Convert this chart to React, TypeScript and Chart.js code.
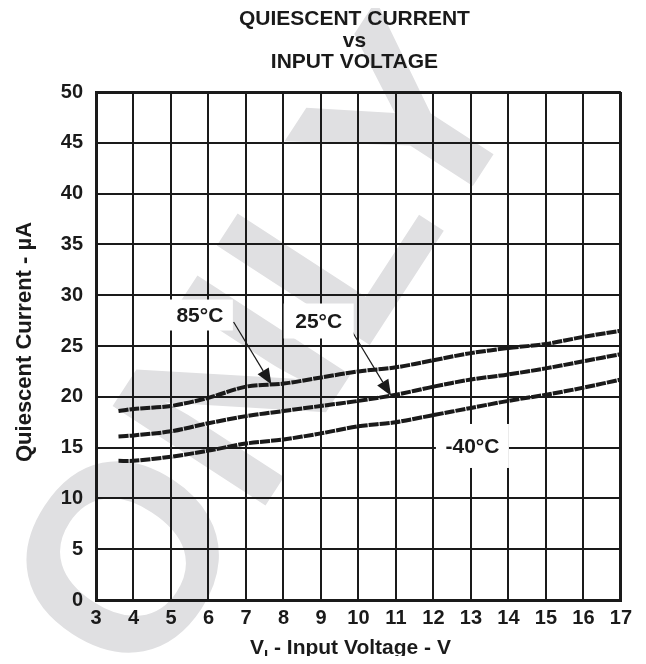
import React, { useEffect, useRef } from "react";
import { Chart, registerables } from "chart.js";

Chart.register(...registerables);

// ---- data ----
const voltage = [3.6, 4, 5, 6, 7, 8, 9, 10, 11, 12, 13, 14, 15, 16, 17];
const current85 = [18.6, 18.8, 19.1, 19.9, 21.0, 21.3, 21.9, 22.5, 22.9, 23.6, 24.3, 24.8, 25.2, 25.9, 26.5];
const current25 = [16.1, 16.2, 16.6, 17.4, 18.1, 18.6, 19.1, 19.6, 20.2, 21.0, 21.7, 22.2, 22.8, 23.5, 24.2];
const currentM40 = [13.7, 13.7, 14.1, 14.7, 15.4, 15.8, 16.4, 17.1, 17.5, 18.2, 18.9, 19.6, 20.2, 20.9, 21.7];
const seriesLabels = ["85°C", "25°C", "-40°C"];
const titleLines = ["QUIESCENT CURRENT", "vs", "INPUT VOLTAGE"];
const xTitleMain = "V";
const xTitleSub = "I";
const xTitleRest = " - Input Voltage - V";
const yTitle = "Quiescent Current - µA";
const watermark = "ONLY";

// label anchor points (data coords) and arrows
const labelX = [5.77, 8.94, 13.04];
const labelY = [28.05, 27.46, 15.16];
const arrowFromX = [6.67, 9.84];
const arrowFromY = [27.36, 26.38];
const arrowToX = [7.68, 10.87];
const arrowToY = [21.2, 20.1];

const FONT = '"Liberation Sans", Arial, Helvetica, sans-serif';
const INK = "#1a1a1a";

export default function App() {
  const ref = useRef<HTMLCanvasElement | null>(null);

  useEffect(() => {
    const canvas = ref.current;
    if (!canvas) return;

    const deco = {
      id: "deco",
      beforeDraw(chart: any) {
        const ctx = chart.ctx;
        ctx.save();
        ctx.fillStyle = "rgb(224,224,226)";
        ctx.translate(112, 547);
        ctx.rotate((-57 * Math.PI) / 180);
        ctx.font = `bold 265px ${FONT}`;
        ctx.textAlign = "left";
        ctx.textBaseline = "alphabetic";
        ctx.fillText(watermark, -103, 95);
        ctx.restore();
      },
      afterDatasetsDraw(chart: any) {
        const ctx = chart.ctx;
        const xs = chart.scales.x;
        const ys = chart.scales.y;
        ctx.save();
        // arrows
        ctx.strokeStyle = INK;
        ctx.fillStyle = INK;
        ctx.lineWidth = 1.2;
        for (let i = 0; i < arrowFromX.length; i++) {
          const x0 = xs.getPixelForValue(arrowFromX[i]);
          const y0 = ys.getPixelForValue(arrowFromY[i]);
          const x1 = xs.getPixelForValue(arrowToX[i]);
          const y1 = ys.getPixelForValue(arrowToY[i]);
          const a = Math.atan2(y1 - y0, x1 - x0);
          const L = 16, W = 6.5;
          const bx = x1 - L * Math.cos(a);
          const by = y1 - L * Math.sin(a);
          ctx.beginPath();
          ctx.moveTo(x0, y0);
          ctx.lineTo(bx, by);
          ctx.stroke();
          ctx.beginPath();
          ctx.moveTo(x1, y1);
          ctx.lineTo(bx + W * Math.sin(a), by - W * Math.cos(a));
          ctx.lineTo(bx - W * Math.sin(a), by + W * Math.cos(a));
          ctx.closePath();
          ctx.fill();
        }
        // labels with white boxes
        const boxW = [66, 70, 73];
        const boxH = [31, 35, 44];
        ctx.font = `bold 21px ${FONT}`;
        ctx.textAlign = "center";
        ctx.textBaseline = "middle";
        for (let i = 0; i < seriesLabels.length; i++) {
          const cx = xs.getPixelForValue(labelX[i]);
          const cy = ys.getPixelForValue(labelY[i]);
          ctx.fillStyle = "#ffffff";
          ctx.fillRect(cx - boxW[i] / 2, cy - boxH[i] / 2, boxW[i], boxH[i]);
          ctx.fillStyle = INK;
          ctx.fillText(seriesLabels[i], cx, cy + 1);
        }
        ctx.restore();
      },
      afterDraw(chart: any) {
        const ctx = chart.ctx;
        const area = chart.chartArea;
        const cx = (area.left + area.right) / 2;
        ctx.save();
        ctx.fillStyle = INK;
        // title
        ctx.font = `bold 21px ${FONT}`;
        ctx.textAlign = "center";
        ctx.textBaseline = "alphabetic";
        const base = [17, 39, 60];
        titleLines.forEach((t, i) => ctx.fillText(t, cx - 4, base[i]));
        // x title with subscript
        ctx.font = `bold 21px ${FONT}`;
        const wMain = ctx.measureText(xTitleMain).width;
        const wRest = ctx.measureText(xTitleRest).width;
        ctx.font = `bold 15px ${FONT}`;
        const wSub = ctx.measureText(xTitleSub).width;
        const total = wMain + wSub + wRest;
        let x = cx - total / 2 - 8;
        const by = 646;
        ctx.textAlign = "left";
        ctx.font = `bold 21px ${FONT}`;
        ctx.fillText(xTitleMain, x, by);
        x += wMain;
        ctx.font = `bold 15px ${FONT}`;
        ctx.fillText(xTitleSub, x, by + 6);
        x += wSub;
        ctx.font = `bold 21px ${FONT}`;
        ctx.fillText(xTitleRest, x, by);
        // y title
        ctx.translate(17, (area.top + area.bottom) / 2 - 4);
        ctx.rotate(-Math.PI / 2);
        ctx.textAlign = "center";
        ctx.textBaseline = "middle";
        ctx.font = `bold 22px ${FONT}`;
        ctx.fillText(yTitle, 0, 0);
        ctx.restore();
      },
    };

    const gridWidth = (max: number) => (c: any) =>
      c.tick && c.tick.value === max ? 3 : 2;

    const lineStyle = {
      borderColor: "#1a1a1a",
      borderWidth: 4,
      borderDash: [10, 1],
      pointRadius: 0,
      tension: 0.3,
      fill: false,
    };

    const chart = new Chart(canvas, {
      type: "line",
      data: {
        datasets: [
          { label: seriesLabels[0], data: voltage.map((v, i) => ({ x: v, y: current85[i] })), ...lineStyle },
          { label: seriesLabels[1], data: voltage.map((v, i) => ({ x: v, y: current25[i] })), ...lineStyle },
          { label: seriesLabels[2], data: voltage.map((v, i) => ({ x: v, y: currentM40[i] })), ...lineStyle },
        ],
      },
      options: {
        animation: false,
        responsive: true,
        maintainAspectRatio: false,
        layout: { padding: { top: 84, right: 12, left: 0, bottom: 0 } },
        plugins: {
          legend: { display: false },
          title: { display: false },
          tooltip: { enabled: false },
        },
        scales: {
          x: {
            type: "linear",
            min: 3,
            max: 17,
            afterFit: (s: any) => {
              s.height = 56;
            },
            ticks: {
              stepSize: 1,
              padding: 6,
              color: INK,
              font: { family: FONT, size: 20, weight: "bold" },
            },
            grid: { color: INK, lineWidth: gridWidth(17), drawTicks: false },
            border: { display: true, color: INK, width: 3 },
          },
          y: {
            type: "linear",
            min: 0,
            max: 50,
            afterFit: (s: any) => {
              s.width = 88;
            },
            ticks: {
              stepSize: 5,
              padding: 13,
              color: INK,
              font: { family: FONT, size: 20, weight: "bold" },
            },
            grid: { color: INK, lineWidth: gridWidth(50), drawTicks: false },
            border: { display: true, color: INK, width: 3 },
          },
        },
      },
      plugins: [deco],
    } as any);

    return () => chart.destroy();
  }, []);

  return (
    <div style={{ width: 630, height: 648, position: "relative" }}>
      <canvas ref={ref} />
    </div>
  );
}
